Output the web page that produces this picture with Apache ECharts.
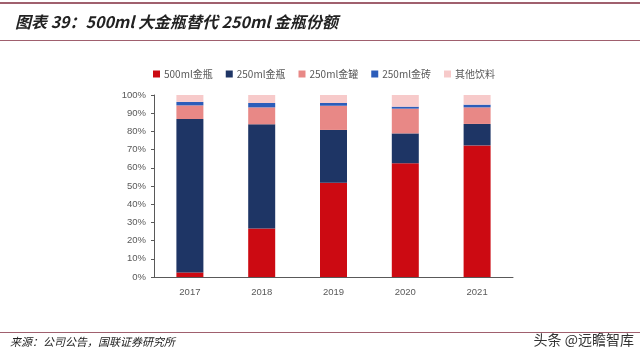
<!DOCTYPE html>
<html>
<head>
<meta charset="utf-8">
<script src="https://cdn.jsdelivr.net/npm/echarts@6/dist/echarts.min.js"></script>
<style>
  html, body { margin: 0; padding: 0; background: #fff; }
  #chart { width: 640px; height: 354px; }
</style>
</head>
<body>
<div id="chart"></div>
<script>
// 年份
const years = ["2017", "2018", "2019", "2020", "2021"];
// 各品类份额 (%)
const bottle500 = [2.5, 26.6, 51.8, 62.5, 72.3];
const bottle250 = [84.3, 57.3, 29.0, 16.4, 11.8];
const can250 = [7.5, 9.3, 13.3, 13.6, 9.1];
const brick250 = [1.9, 2.4, 1.5, 1.1, 1.5];
const others = [3.8, 4.4, 4.4, 6.4, 5.3];
const seriesNames = ["500ml金瓶", "250ml金瓶", "250ml金罐", "250ml金砖", "其他饮料"];

const colors = ["#CC0A12", "#1E3565", "#E88886", "#2C5DBA", "#F7CACA"];
const dataList = [bottle500, bottle250, can250, brick250, others];

const chart = echarts.init(document.getElementById("chart"));
const option = {
  animation: false,
  color: colors,
  title: {
    text: "图表 39：500ml 大金瓶替代 250ml 金瓶份额",
    left: 10,
    top: 9,
    textStyle: {
      fontSize: 16,
      fontStyle: "italic",
      fontWeight: "bold",
      color: "#222",
      fontFamily: "Noto Sans CJK SC",
    },
  },
  legend: {
    top: 64,
    left: 148,
    itemWidth: 7,
    itemHeight: 7,
    itemGap: 13,
    icon: "rect",
    textStyle: { fontSize: 10, color: "#595959", fontFamily: "Noto Sans CJK SC", padding: [0, 0, 0, -1] },
    data: seriesNames,
  },
  grid: { left: 154, right: 127, top: 95, bottom: 77 },
  xAxis: {
    type: "category",
    data: years,
    axisLine: { lineStyle: { color: "#595959" } },
    axisTick: { inside: true, length: 4, lineStyle: { color: "#595959" } },
    axisLabel: { fontSize: 9.5, color: "#595959", margin: 10 },
  },
  yAxis: {
    type: "value",
    min: 0,
    max: 100,
    interval: 10,
    axisLine: { show: true, lineStyle: { color: "#595959" } },
    axisTick: { show: true, length: 3, lineStyle: { color: "#595959" } },
    splitLine: { show: false },
    axisLabel: { fontSize: 9.5, color: "#595959", margin: 8, formatter: "{value}%" },
  },
  series: seriesNames.map((name, i) => ({
    name: name,
    type: "bar",
    stack: "total",
    barWidth: 27,
    data: dataList[i],
  })),
  graphic: [
    { type: "rect", shape: { x: 0, y: 2, width: 640, height: 2 }, style: { fill: "#A0606E" } },
    { type: "rect", shape: { x: 0, y: 40, width: 640, height: 1 }, style: { fill: "#A0606E" } },
    { type: "rect", shape: { x: 0, y: 332, width: 640, height: 1 }, style: { fill: "#A0606E" } },
    {
      type: "text",
      left: 10,
      top: 336,
      style: { text: "来源：公司公告，国联证券研究所", fill: "#222", font: "italic 11px 'Noto Sans CJK SC'" },
    },
    {
      type: "text",
      right: 6,
      top: 333,
      style: { text: "头条 @远瞻智库", fill: "#333", font: "14px 'Noto Sans CJK SC'" },
    },
  ],
};
chart.setOption(option);
</script>
</body>
</html>
